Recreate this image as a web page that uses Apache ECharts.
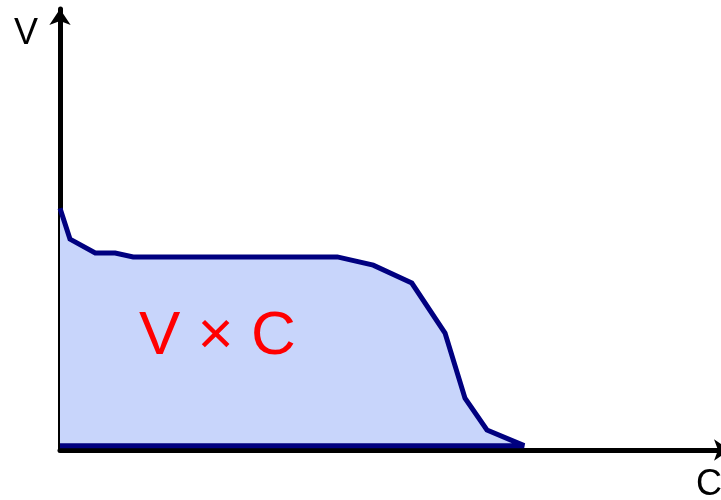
<!DOCTYPE html>
<html>
<head>
<meta charset="utf-8">
<script src="https://cdn.jsdelivr.net/npm/echarts@6/dist/echarts.min.js"></script>
<style>
  html, body { margin: 0; padding: 0; background: #fff; }
  #chart { width: 721px; height: 500px; }
</style>
</head>
<body>
<div id="chart"></div>
<script>
// capacity (C) along x, voltage (V) along y, closed back along the base
const capacity = [0, 1.5, 5.3, 8.3, 11.0, 41.7, 47.1, 52.9, 57.9, 60.9, 64.2, 69.8, 0]
const voltage = [54.6, 47.5, 44.3, 44.3, 43.4, 43.4, 41.5, 37.4, 25.9, 10.9, 3.6, 0, 0]

const axisLabels = ['V', 'C']
const areaLabel = 'V × C'

const chart = echarts.init(document.getElementById('chart'))

const option = {
  animation: false,
  grid: {
    left: 60,
    width: 670,
    top: 9,
    bottom: 50,
    outerBoundsMode: 'none'
  },
  xAxis: {
    type: 'value',
    min: 0,
    max: 100.75,
    axisLine: {
      show: true,
      onZero: false,
      symbol: ['none', 'arrow'],
      symbolSize: [16, 16],
      lineStyle: { color: '#000', width: 5 }
    },
    axisTick: { show: false },
    axisLabel: { show: false },
    splitLine: { show: false }
  },
  yAxis: {
    type: 'value',
    min: -1,
    max: 100.4,
    axisLine: {
      show: true,
      onZero: false,
      symbol: ['none', 'arrow'],
      symbolSize: [16, 16],
      lineStyle: { color: '#000', width: 5 }
    },
    axisTick: { show: false },
    axisLabel: { show: false },
    splitLine: { show: false }
  },
  series: [
    {
      type: 'line',
      data: capacity.map((c, i) => [c, voltage[i]]),
      symbol: 'none',
      clip: false,
      lineStyle: { color: '#000080', width: 5, join: 'miter', miterLimit: 2 },
      areaStyle: { color: '#c8d5fb', opacity: 1 },
      z: 1
    }
  ],
  graphic: [
    {
      type: 'text',
      left: 14,
      top: 16,
      z: 100,
      style: {
        text: axisLabels[0],
        fill: '#000',
        font: '36px "Liberation Sans", Arial, sans-serif'
      }
    },
    {
      type: 'text',
      left: 696,
      top: 467,
      z: 100,
      style: {
        text: axisLabels[1],
        fill: '#000',
        font: '36px "Liberation Sans", Arial, sans-serif'
      }
    },
    {
      type: 'text',
      left: 139,
      top: 306,
      z: 100,
      style: {
        text: areaLabel,
        fill: '#ff0000',
        font: '62px "Liberation Sans", Arial, sans-serif'
      }
    }
  ]
}

chart.setOption(option)
</script>
</body>
</html>
